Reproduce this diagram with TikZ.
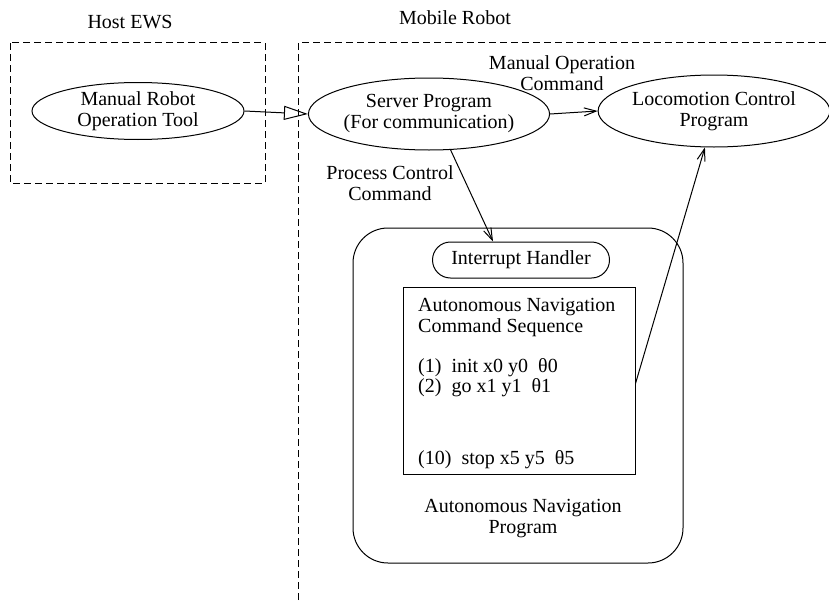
\documentclass[tikz,border=0pt]{standalone}
\usepackage{fontspec}
\setmainfont{Liberation Serif}
\usetikzlibrary{arrows.meta,shapes.geometric,shapes.misc}
\begin{document}
\begin{tikzpicture}[x=1pt,y=-1pt,
  every node/.style={font=\fontsize{20}{21}\selectfont, inner sep=0pt},
  lbl/.style={align=center},
  proc/.style={draw, ellipse, line width=1pt, align=center},
  dbox/.style={draw, line width=1pt, dash pattern=on 7pt off 4pt},
  conn/.style={line width=1pt, -{Straight Barb[length=12pt,width=8pt]}},
  openconn/.style={line width=1pt, -{Triangle[open,length=24pt,width=14pt]}}
]
\useasboundingbox (0,0) rectangle (829,602);

% frames
\node (hostlbl) at (130,22) {Host EWS};
\node (mobilelbl) at (455,18) {Mobile Robot};
\draw[dbox] (10,43) rectangle (265,183);
\coordinate (mbl) at (298,600);
\coordinate (mtl) at (298,43);
\coordinate (mtr) at (829,43);
\draw[dbox] (mbl) -- (mtl) -- (mtr);

% processes
\node[proc, minimum width=212pt, minimum height=57pt] (tool) at (138,111)
  {Manual Robot\\Operation Tool};
\node[proc, minimum width=208pt, minimum height=72pt] (server) at (429,114)
  {Server Program\\(For communication)};
\node[proc, minimum width=212pt, minimum height=72pt] (loco) at (714,111)
  {Locomotion Control\\Program};

\node[lbl] (molbl) at (562,73) {Manual Operation\\Command};
\node[lbl] (pclbl) at (390,183) {Process Control\\Command};

% autonomous navigation program
\draw[line width=1pt, rounded corners=35pt] (353,228) rectangle (683,563);
\node[draw, line width=1pt, rounded rectangle, minimum width=177pt, minimum height=36pt] (intr) at (521,260) {Interrupt Handler};
\node[draw, line width=1pt, minimum width=232pt, minimum height=187pt] (inner) at (519,380.5) {};
\node[anchor=west] (t1) at (418,307) {Autonomous Navigation};
\node[anchor=west] (t2) at (418,328) {Command Sequence};
\node[anchor=west] (t3) at (418,368) {(1)\ \ init x0 y0\ \ θ0};
\node[anchor=west] (t4) at (418,388) {(2)\ \ go x1 y1\ \ θ1};
\node[anchor=west] (t5) at (418,460) {(10)\ \ stop x5 y5\ \ θ5};
\node[lbl] (anplbl) at (523,519) {Autonomous Navigation\\Program};

% connectors
\draw[openconn] (tool.east) -- (server.west);
\draw[conn] (server.east) -- (loco.west);
\draw[conn] (server.-59) -- ([xshift=-28pt]intr.north);
\draw[conn] ([yshift=-3pt]inner.east) -- (loco.-104);
\end{tikzpicture}
\end{document}
